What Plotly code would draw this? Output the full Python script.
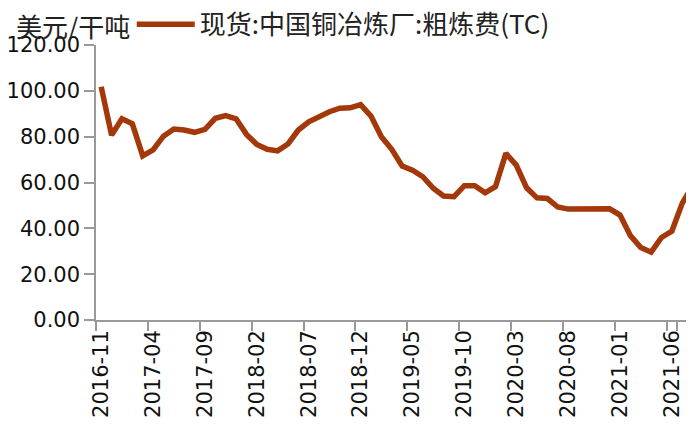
import plotly.graph_objects as go
import pandas as pd

months = [p.strftime("%Y-%m") for p in pd.period_range("2016-11", "2021-08", freq="M")]

tc_values = [
    101.8, 80.7, 87.8, 85.6, 71.6, 74.2, 80.2, 83.3, 82.9, 81.9,
    83.2, 88.0, 89.2, 87.8, 81.0, 76.6, 74.5, 73.8, 76.8, 82.9,
    86.5, 89.0, 90.9, 92.4, 92.6, 94.0, 89.0, 80.0, 74.5, 67.2,
    65.4, 62.5, 57.5, 54.1, 53.8, 58.6, 58.6, 55.5, 58.2, 72.7,
    67.6, 57.7, 53.3, 53.0, 49.3, 48.4, 48.4, 48.0, 48.6, 48.5,
    45.8, 36.8, 31.6, 29.6, 36.0, 38.8, 51.0, 58.6,
]

series_name = "现货:中国铜冶炼厂:粗炼费(TC)"
unit_label = "美元/干吨"
y_ticks = [0, 20, 40, 60, 80, 100, 120]
x_ticks = months[::5]

line_color = "#a3390b"
axis_color = "#999999"
cjk_font = "Noto Sans CJK SC"
num_font = "DejaVu Sans"

fig = go.Figure()
fig.add_trace(go.Scatter(
    x=months, y=tc_values, mode="lines", name=series_name,
    line=dict(color=line_color, width=5.5),
))

fig.update_layout(
    width=694, height=428,
    margin=dict(l=88, r=0, t=37, b=116, autoexpand=False),
    paper_bgcolor="white", plot_bgcolor="white",
    showlegend=True,
    legend=dict(
        orientation="h", x=0.059, xanchor="left", y=0.99, yanchor="bottom",
        font=dict(family=cjk_font, size=26, color="#222222"),
        itemwidth=58, bgcolor="rgba(0,0,0,0)",
    ),
    annotations=[dict(
        text=unit_label, xref="paper", yref="paper",
        x=-0.135, y=1.0, xanchor="left", yanchor="bottom", yshift=-1,
        showarrow=False, font=dict(family=cjk_font, size=26, color="#222222"),
    )],
)

fig.update_xaxes(
    type="category", categoryorder="array", categoryarray=months,
    range=[-0.5, 57.9], automargin=False,
    tickmode="array", tickvals=x_ticks, ticktext=x_ticks,
    tickson="boundaries", tickangle=-90,
    ticks="outside", ticklen=9, tickcolor=axis_color, tickwidth=1.5,
    showline=True, linecolor=axis_color, linewidth=1.5,
    showgrid=False, zeroline=False,
    tickfont=dict(family=num_font, size=21, color="#111111"),
)
fig.update_yaxes(
    range=[0, 120], automargin=False,
    tickmode="array", tickvals=y_ticks, tickformat=".2f",
    ticks="outside", ticklen=10, tickcolor=axis_color, tickwidth=1.5,
    showline=True, linecolor=axis_color, linewidth=1.5,
    showgrid=False, zeroline=False,
    tickfont=dict(family=num_font, size=21, color="#111111"),
)

fig.write_html("out.html")
